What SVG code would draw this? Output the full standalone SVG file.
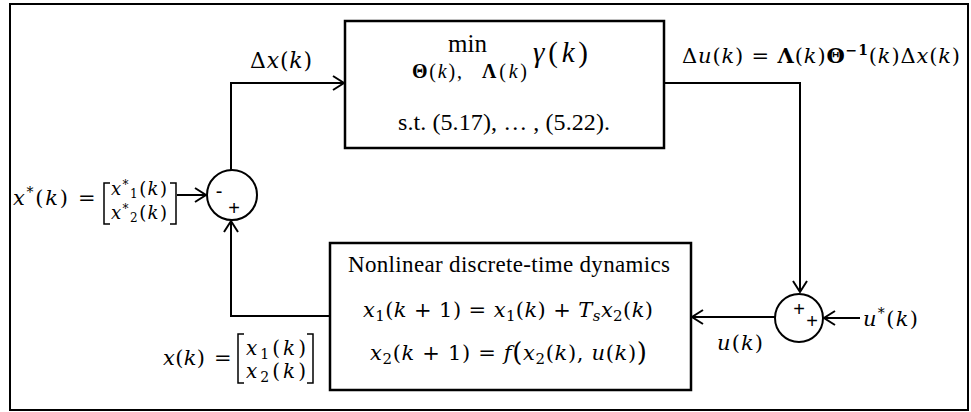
<svg xmlns="http://www.w3.org/2000/svg" width="971" height="412" viewBox="0 0 971 412">
<style>
.frame{fill:none;stroke:#000;stroke-width:2}
.box{fill:#fff;stroke:#000;stroke-width:2.5}
.sum{fill:#fff;stroke:#000;stroke-width:2}
.ln{fill:none;stroke:#000;stroke-width:2}
.br{fill:none;stroke:#000;stroke-width:1.5}
.m{font-family:"Liberation Serif","Times New Roman",serif;fill:#000}
.c{font-family:"DejaVu Serif","Liberation Serif",serif;fill:#000}
.i{font-style:italic}
.b{font-weight:bold}
.sg{font-family:"Liberation Sans",Arial,sans-serif;fill:#000}
</style>
<defs>
<marker id="ah" markerUnits="userSpaceOnUse" markerWidth="14" markerHeight="16" refX="12" refY="8" orient="auto">
<path d="M1,1 L12,8 L1,15" fill="none" stroke="#000" stroke-width="2"/>
</marker>
</defs>
<rect class="frame" x="10" y="4" width="958" height="406"/>

<g id="connectors">
<path class="ln" d="M231,170 L231,83 L344,83" marker-end="url(#ah)"/>
<path class="ln" d="M664,83 L800,83 L800,292" marker-end="url(#ah)"/>
<path class="ln" d="M775,317 L692,317" marker-end="url(#ah)"/>
<path class="ln" d="M330,316 L231,316 L231,221" marker-end="url(#ah)"/>
<path class="ln" d="M177,195 L206,195" marker-end="url(#ah)"/>
<path class="ln" d="M860,318 L824,318" marker-end="url(#ah)"/>
</g>

<g id="optimizer">
<rect class="box" x="345" y="21" width="319" height="127"/>
<text class="m" x="448" y="52" font-size="25">min</text>
<text class="m" x="412" y="78" font-size="20" textLength="50"><tspan class="b">Θ</tspan>(<tspan class="i">k</tspan>),</text>
<text class="m" x="482" y="78" font-size="20" textLength="45"><tspan class="b">Λ</tspan>(<tspan class="i">k</tspan>)</text>
<text class="m" x="533" y="62" font-size="29" textLength="55"><tspan class="i">γ</tspan>(<tspan class="i">k</tspan>)</text>
<text class="m" x="398" y="130" font-size="24" textLength="212">s.t.  (5.17), … , (5.22).</text>
</g>

<g id="dynamics">
<rect class="box" x="330" y="243" width="361" height="147"/>
<text class="m" x="348" y="272" font-size="23" textLength="322">Nonlinear discrete-time dynamics</text>
<text class="c" x="363" y="317" font-size="21" textLength="290"><tspan class="i">x</tspan><tspan font-size="15" dy="4">1</tspan><tspan dy="-4">(</tspan><tspan class="i">k</tspan> + 1) = <tspan class="i">x</tspan><tspan font-size="15" dy="4">1</tspan><tspan dy="-4">(</tspan><tspan class="i">k</tspan>) + <tspan class="i">T</tspan><tspan class="i" font-size="15" dy="4">s</tspan><tspan class="i" dy="-4">x</tspan><tspan font-size="15" dy="4">2</tspan><tspan dy="-4">(</tspan><tspan class="i">k</tspan>)</text>
<text class="c" x="370" y="360" font-size="21" textLength="277"><tspan class="i">x</tspan><tspan font-size="15" dy="4">2</tspan><tspan dy="-4">(</tspan><tspan class="i">k</tspan> + 1) = <tspan class="i">f</tspan><tspan font-size="26" dy="1">(</tspan><tspan class="i" dy="-1">x</tspan><tspan font-size="15" dy="4">2</tspan><tspan dy="-4">(</tspan><tspan class="i">k</tspan>), <tspan class="i">u</tspan>(<tspan class="i">k</tspan>)<tspan font-size="26" dy="1">)</tspan></text>
</g>

<g id="sum1">
<circle class="sum" cx="232" cy="195" r="25"/>
<text class="sg" x="219" y="198" font-size="20" text-anchor="middle">-</text>
<text class="sg" x="234" y="215" font-size="20" text-anchor="middle">+</text>
</g>

<g id="sum2">
<circle class="sum" cx="799" cy="318" r="24"/>
<text class="sg" x="799" y="316" font-size="20" text-anchor="middle">+</text>
<text class="sg" x="812" y="328" font-size="20" text-anchor="middle">+</text>
</g>

<g id="labels">
<text class="c" x="250" y="68" font-size="22" textLength="62">Δ<tspan class="i">x</tspan>(<tspan class="i">k</tspan>)</text>
<text class="c" x="682" y="63" font-size="21" textLength="278">Δ<tspan class="i">u</tspan>(<tspan class="i">k</tspan>) = <tspan class="b">Λ</tspan>(<tspan class="i">k</tspan>)<tspan class="b">Θ</tspan><tspan class="b" font-size="14" dy="-8">−1</tspan><tspan dy="8">(</tspan><tspan class="i">k</tspan>)Δ<tspan class="i">x</tspan>(<tspan class="i">k</tspan>)</text>
<text class="c" x="717" y="350" font-size="21" textLength="46"><tspan class="i">u</tspan>(<tspan class="i">k</tspan>)</text>
<text class="c" x="863" y="326" font-size="21" textLength="55"><tspan class="i">u</tspan><tspan font-size="14" dy="-8">*</tspan><tspan dy="8">(</tspan><tspan class="i">k</tspan>)</text>

<text class="c" x="13" y="205" font-size="21" textLength="55"><tspan class="i">x</tspan><tspan font-size="14" dy="-8">*</tspan><tspan dy="8">(</tspan><tspan class="i">k</tspan>)</text>
<text class="c" x="78" y="205" font-size="21">=</text>
<path class="br" d="M110,183 L104,183 L104,224 L110,224 M170,183 L176,183 L176,224 L170,224"/>
<text class="c" x="111" y="195" font-size="18" textLength="56"><tspan class="i">x</tspan><tspan font-size="12" dy="-6">*</tspan><tspan font-size="12" dy="9">1</tspan><tspan dy="-3">(</tspan><tspan class="i">k</tspan>)</text>
<text class="c" x="111" y="219" font-size="18" textLength="56"><tspan class="i">x</tspan><tspan font-size="12" dy="-6">*</tspan><tspan font-size="12" dy="9">2</tspan><tspan dy="-3">(</tspan><tspan class="i">k</tspan>)</text>

<text class="c" x="163" y="365" font-size="21" textLength="42"><tspan class="i">x</tspan>(<tspan class="i">k</tspan>)</text>
<text class="c" x="214" y="365" font-size="21">=</text>
<path class="br" d="M244,334 L238,334 L238,383 L244,383 M307,334 L313,334 L313,383 L307,383"/>
<text class="c" x="246" y="355" font-size="20" textLength="60"><tspan class="i">x</tspan><tspan font-size="14" dy="4">1</tspan><tspan dy="-4">(</tspan><tspan class="i">k</tspan>)</text>
<text class="c" x="246" y="378" font-size="20" textLength="60"><tspan class="i">x</tspan><tspan font-size="14" dy="4">2</tspan><tspan dy="-4">(</tspan><tspan class="i">k</tspan>)</text>
</g>
</svg>
